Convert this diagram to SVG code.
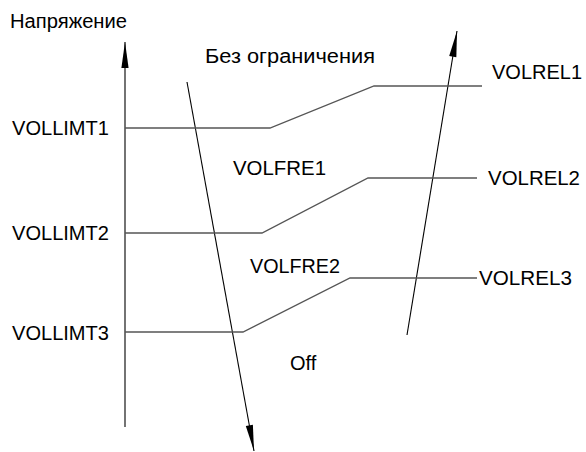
<svg xmlns="http://www.w3.org/2000/svg" width="586" height="452" viewBox="0 0 586 452">
<style>
text{font-family:"Liberation Sans",Arial,sans-serif;font-size:20px;fill:#000}
.lim{fill:none;stroke:#555;stroke-width:1.3}
.ax{stroke:#000;stroke-width:1.1;fill:none}
</style>
<defs>
<marker id="ah" markerUnits="userSpaceOnUse" markerWidth="30" markerHeight="10" viewBox="-27 -5 28 10" refX="0" refY="0" orient="auto">
<path d="M0,0 L-26,-3.6 L-26,3.6 Z" fill="#000"/>
</marker>
</defs>
<rect width="586" height="452" fill="#fff"/>
<g id="connectors">
<line class="ax" x1="125" y1="427" x2="125" y2="42" marker-end="url(#ah)"/>
<line class="ax" x1="187" y1="82" x2="254" y2="451" marker-end="url(#ah)"/>
<line class="ax" x1="407" y1="335" x2="457" y2="31" marker-end="url(#ah)"/>
<polyline class="lim" points="125,128 270,128 374,86 482,86"/>
<polyline class="lim" points="125,233 262,233 368,178 477,178"/>
<polyline class="lim" points="125,332 243,332 350,278 477,278"/>
</g>
<g id="axis-label"><text x="10" y="28" textLength="117" lengthAdjust="spacingAndGlyphs">Напряжение</text></g>
<g id="unlimited"><text x="205" y="63" textLength="170" lengthAdjust="spacingAndGlyphs">Без ограничения</text></g>
<g id="vollimt1"><text x="12" y="135" textLength="97" lengthAdjust="spacingAndGlyphs">VOLLIMT1</text></g>
<g id="vollimt2"><text x="12" y="240" textLength="97" lengthAdjust="spacingAndGlyphs">VOLLIMT2</text></g>
<g id="vollimt3"><text x="12" y="340" textLength="97" lengthAdjust="spacingAndGlyphs">VOLLIMT3</text></g>
<g id="volrel1"><text x="492" y="79">VOLREL1</text></g>
<g id="volrel2"><text x="488" y="185" textLength="92" lengthAdjust="spacingAndGlyphs">VOLREL2</text></g>
<g id="volrel3"><text x="479" y="285" textLength="93" lengthAdjust="spacingAndGlyphs">VOLREL3</text></g>
<g id="volfre1"><text x="233" y="175" textLength="93" lengthAdjust="spacingAndGlyphs">VOLFRE1</text></g>
<g id="volfre2"><text x="250" y="273" textLength="90" lengthAdjust="spacingAndGlyphs">VOLFRE2</text></g>
<g id="off"><text x="290" y="370">Off</text></g>
</svg>
